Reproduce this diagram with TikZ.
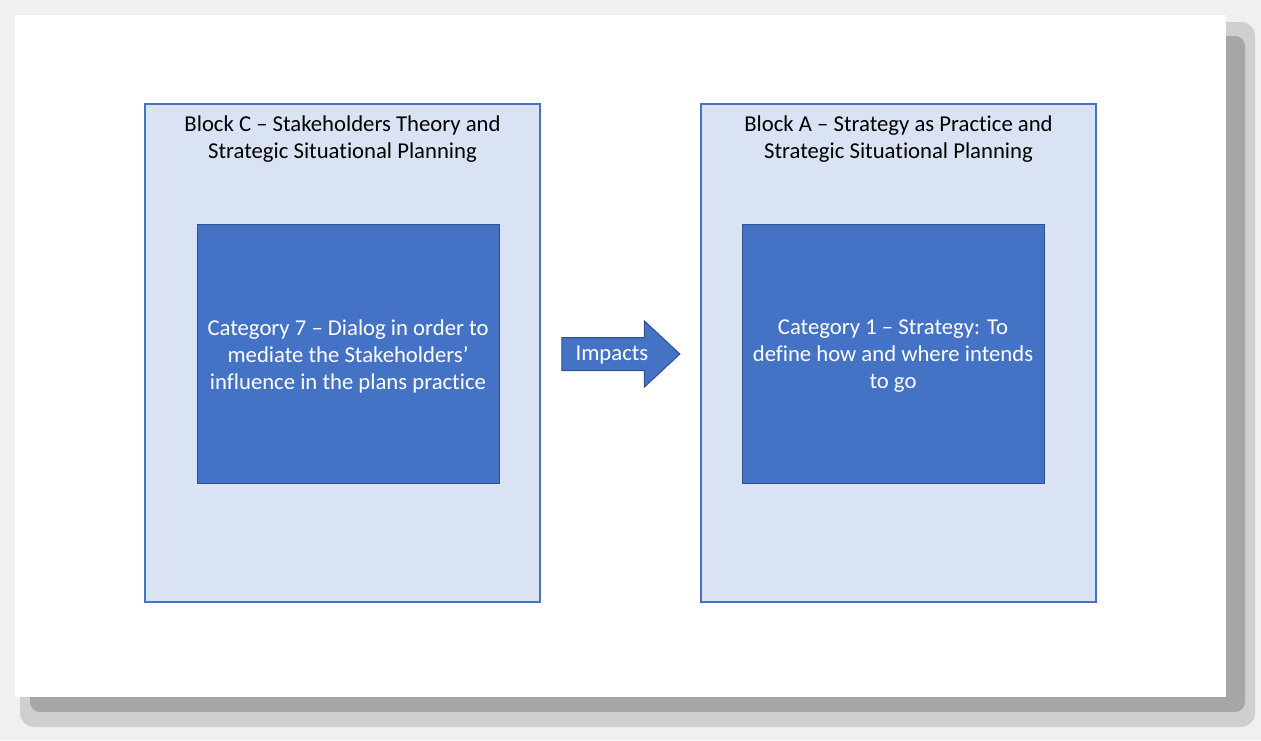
\documentclass[tikz,border=0pt]{standalone}
\usepackage{fontspec}
\setmainfont[RawFeature=-liga]{Carlito}
\usetikzlibrary{shapes.arrows}
\definecolor{blockfill}{RGB}{218, 227, 243}
\definecolor{blockline}{RGB}{68, 114, 196}
\definecolor{catfill}{RGB}{68, 114, 196}
\definecolor{catline}{RGB}{47, 82, 143}

\begin{document}
\begin{tikzpicture}[x=1pt, y=-1pt,
    blockbox/.style={draw=blockline, fill=blockfill, line width=1.2pt, minimum width=395pt, minimum height=498pt, inner sep=0pt},
    catbox/.style={draw=catline, fill=catfill, line width=1pt, minimum width=302pt, minimum height=259pt, inner sep=0pt},
    boxtext/.style={align=center, font=\fontsize{22.7}{27}\selectfont},
    impactarrow/.style={single arrow, draw=catline, fill=catfill, line width=1pt, text=white,
        font=\fontsize{22.7}{27}\selectfont, minimum height=118pt, single arrow head extend=16.5pt,
        single arrow tip angle=86, text height=14.5pt, text depth=2.5pt, inner ysep=7.5pt, inner xsep=3pt}]
    \useasboundingbox (0,0) rectangle (1261,740);

    % Page with its shadow
    \fill[black!6] (0,0) rectangle (1261,740);
    \fill[black!19, rounded corners=14pt] (20,22) rectangle (1255,727);
    \fill[black!35, rounded corners=10pt] (30,36) rectangle (1245,712);
    \fill[white] (15,15) rectangle (1226,697);

    % Block C
    \node[blockbox] (blockC) at (342.5,353) {};
    \node[boxtext, anchor=north] (titleC) at (342.5,112)
        {Block C -- Stakeholders Theory and\\Strategic Situational Planning};
    \node[catbox] (cat7) at (348,353.5) {};
    \node[boxtext, text=white, yshift=-2.5pt] (cat7text) at (cat7.center)
        {Category 7 -- Dialog in order to\\mediate the Stakeholders’\\influence in the plans practice};

    % Block A
    \node[blockbox] (blockA) at (898.5,353) {};
    \node[boxtext, anchor=north] (titleA) at (898.5,112)
        {Block A -- Strategy as Practice and\\Strategic Situational Planning};
    \node[catbox] (cat1) at (893,353.5) {};
    \node[boxtext, text=white, yshift=-2.5pt] (cat1text) at (cat1.center)
        {Category 1 -- Strategy: To\\define how and where intends\\to go};

    % Impacts arrow
    \node[impactarrow] (impacts) at (612,354) {Impacts};
\end{tikzpicture}
\end{document}
